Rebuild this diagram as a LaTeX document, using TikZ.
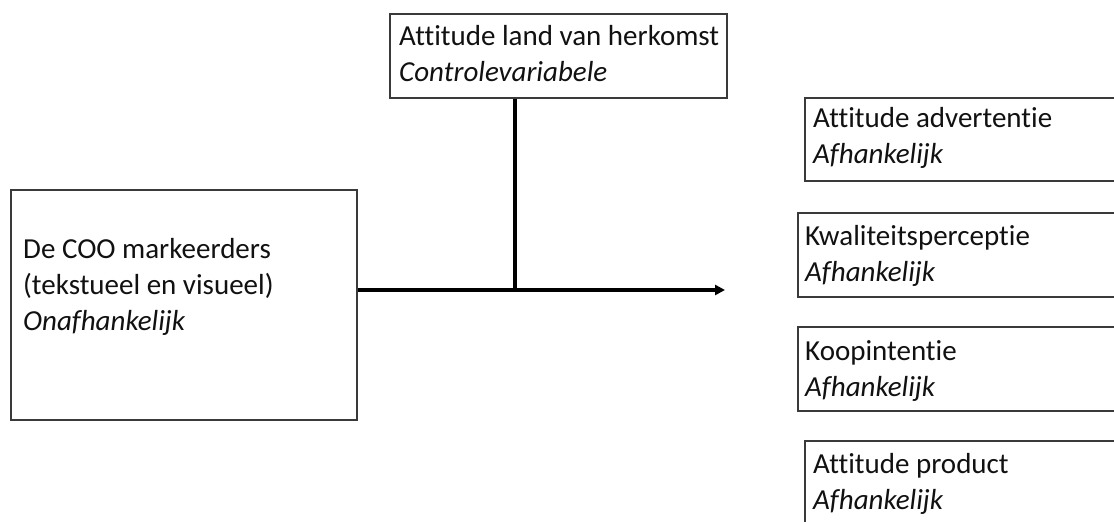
\documentclass[tikz,border=0pt]{standalone}
\usepackage{fontspec}
\setmainfont[Ligatures={NoCommon}]{Carlito}
\usetikzlibrary{arrows.meta}
\definecolor{boxline}{HTML}{3A3A3A}
\definecolor{ink}{HTML}{111111}
\tikzset{
  box/.style={draw=boxline, line width=2.2pt, rectangle, inner sep=0pt, anchor=north west, fill=white},
  txt/.style={anchor=base west, inner sep=0pt, text=ink, font=\fontsize{29}{36}\selectfont},
  itxt/.style={txt, font=\fontsize{29}{36}\selectfont\itshape},
  link/.style={draw=black, line width=3.2pt},
}
\begin{document}
\begin{tikzpicture}[x=1pt,y=-1pt]
\useasboundingbox (0,0) rectangle (1114,522);
\clip (0,0) rectangle (1114,522);
% boxes
\node[box, minimum width=346pt, minimum height=230pt] (coo) at (10,189) {};
\node[box, minimum width=337pt, minimum height=84pt] (land) at (389,13) {};
\node[box, minimum width=330pt, minimum height=83pt] (adv) at (804,97) {};
\node[box, minimum width=330pt, minimum height=84pt] (kwal) at (797,212) {};
\node[box, minimum width=330pt, minimum height=84pt] (koop) at (797,326) {};
\node[box, minimum width=330pt, minimum height=100pt] (prod) at (804,440) {};
% texts
\node[txt] (coo1) at (23,258) {De COO markeerders};
\node[txt] (coo2) at (23,294) {(tekstueel en visueel)};
\node[itxt] (coo3) at (23,330) {Onafhankelijk};
\node[txt] (land1) at (399,45) {Attitude land van herkomst};
\node[itxt] (land2) at (399,81) {Controlevariabele};
\node[txt] (adv1) at (813,127) {Attitude advertentie};
\node[itxt] (adv2) at (813,163) {Afhankelijk};
\node[txt] (kwal1) at (805,245) {Kwaliteitsperceptie};
\node[itxt] (kwal2) at (805,281) {Afhankelijk};
\node[txt] (koop1) at (805,360) {Koopintentie};
\node[itxt] (koop2) at (805,396) {Afhankelijk};
\node[txt] (prod1) at (813,473) {Attitude product};
\node[itxt] (prod2) at (813,509) {Afhankelijk};
% connectors
\coordinate (junction) at (515,290);
\coordinate (tip) at (725,290);
\draw[link] (land.south -| junction) -- (junction);
\draw[link, -{Triangle[length=10pt,width=10pt]}] (coo.east |- junction) -- (tip);
\end{tikzpicture}
\end{document}
